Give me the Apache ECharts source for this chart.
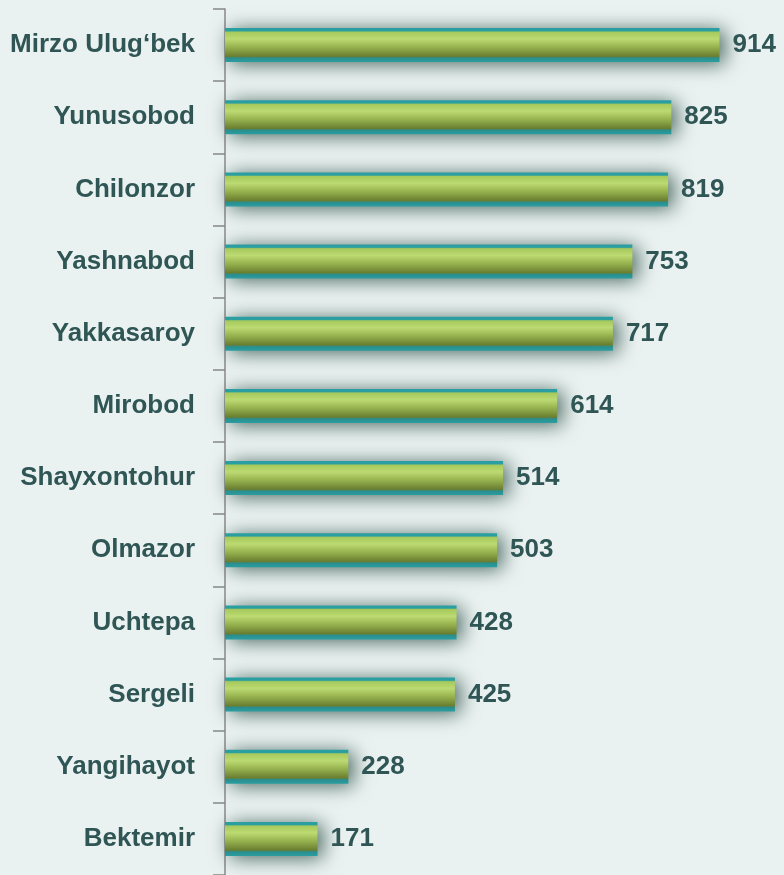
<!DOCTYPE html>
<html>
<head>
<meta charset="utf-8">
<script src="https://cdn.jsdelivr.net/npm/echarts@6/dist/echarts.min.js"></script>
<style>
html,body{margin:0;padding:0;background:#eaf2f1;}
#chart{width:784px;height:875px;}
</style>
</head>
<body>
<div id="chart"></div>
<script>
var districts = ['Mirzo Ulug‘bek','Yunusobod','Chilonzor','Yashnabod','Yakkasaroy','Mirobod','Shayxontohur','Olmazor','Uchtepa','Sergeli','Yangihayot','Bektemir'];
var values = [914, 825, 819, 753, 717, 614, 514, 503, 428, 425, 228, 171];

var chart = echarts.init(document.getElementById('chart'));
chart.setOption({
    backgroundColor: '#eaf2f1',
    animation: false,
    grid: {left: 225, right: 18, top: 9, bottom: 0},
    xAxis: {
        type: 'value',
        min: 0,
        max: 1000,
        show: false
    },
    yAxis: {
        type: 'category',
        inverse: true,
        data: districts,
        axisLine: {show: true, lineStyle: {color: '#888888', width: 1.5}},
        axisTick: {show: true, length: 12, lineStyle: {color: '#888888', width: 1.5}},
        axisLabel: {
            margin: 30,
            color: '#2f5555',
            fontSize: 26,
            fontWeight: 'bold',
            fontFamily: 'Liberation Sans'
        }
    },
    series: [{
        type: 'bar',
        data: values,
        barWidth: 34,
        itemStyle: {
            color: new echarts.graphic.LinearGradient(0, 0, 0, 1, [
                {offset: 0, color: '#2a9ea0'},
                {offset: 0.08, color: '#2a9ea0'},
                {offset: 0.12, color: '#a6c95c'},
                {offset: 0.32, color: '#bcda72'},
                {offset: 0.55, color: '#98b450'},
                {offset: 0.83, color: '#6a7e30'},
                {offset: 0.88, color: '#2a8e90'},
                {offset: 1, color: '#2a9ea0'}
            ]),
            shadowBlur: 20,
            shadowColor: 'rgba(40,75,65,0.85)',
            shadowOffsetX: 5,
            shadowOffsetY: 2
        },
        label: {
            show: true,
            position: 'right',
            distance: 13,
            color: '#2f5555',
            fontSize: 26,
            fontWeight: 'bold',
            fontFamily: 'Liberation Sans'
        }
    }]
});
</script>
</body>
</html>
